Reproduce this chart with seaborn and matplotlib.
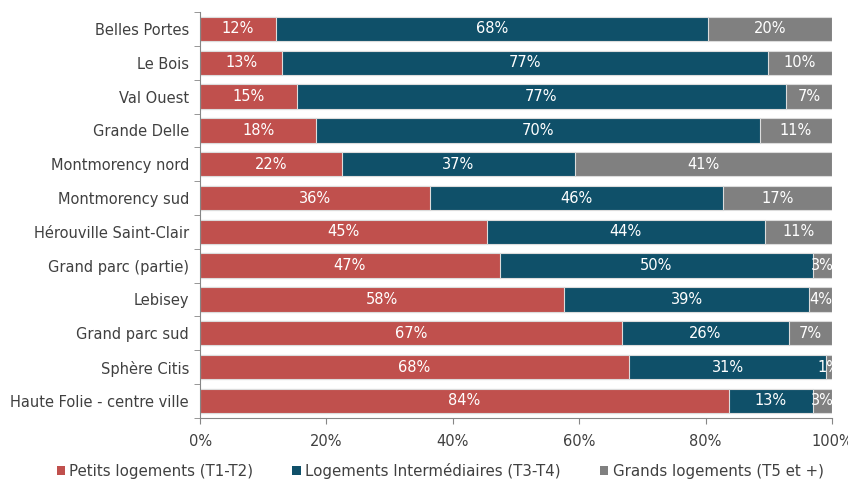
import numpy as np
import pandas as pd
import matplotlib.pyplot as plt
import seaborn as sns
from matplotlib.patches import Patch

sns.set_style("white")
plt.rcParams["font.family"] = ["DejaVu Sans"]

quartiers = [
    "Belles Portes", "Le Bois", "Val Ouest", "Grande Delle",
    "Montmorency nord", "Montmorency sud", "Hérouville Saint-Clair",
    "Grand parc (partie)", "Lebisey", "Grand parc sud", "Sphère Citis",
    "Haute Folie - centre ville",
]
petits = [12.0, 13.0, 15.3, 18.4, 22.4, 36.4, 45.4, 47.4, 57.6, 66.8, 67.9, 83.7]
interm = [68.4, 76.9, 77.4, 70.2, 37.0, 46.4, 44.0, 49.6, 38.8, 26.4, 31.2, 13.3]
grands = [19.6, 10.1, 7.3, 11.4, 40.6, 17.2, 10.6, 3.0, 3.6, 6.8, 0.9, 3.0]

series = ["Petits logements (T1-T2)", "Logements Intermédiaires (T3-T4)",
          "Grands logements (T5 et +)"]
couleurs = ["#C0504D", "#0F5069", "#808080"]

df = pd.DataFrame({"quartier": quartiers, "petits": petits,
                   "interm": interm, "grands": grands})
df["c1"] = df["petits"]
df["c2"] = df["petits"] + df["interm"]
df["c3"] = df["c2"] + df["grands"]

fig = plt.figure(figsize=(8.48, 4.83), dpi=100)
ax = fig.add_axes([0.236, 0.135, 0.745, 0.84])

# stacked bars drawn as overlapping cumulative totals
for col, c in zip(["c3", "c2", "c1"], couleurs[::-1]):
    sns.barplot(data=df, x=col, y="quartier", orient="h", color=c,
                width=0.72, edgecolor="#dcdcdc", linewidth=0.8,
                saturation=1, ax=ax)

for i, row in df.iterrows():
    starts = [0, row["c1"], row["c2"]]
    for s, v in zip(starts, [row["petits"], row["interm"], row["grands"]]):
        ax.text(s + v / 2, i, f"{v:.0f}%", ha="center", va="center",
                color="white", fontsize=10.5, clip_on=True)

ax.set_xlim(0, 100)
ax.set_xticks(np.arange(0, 101, 20))
ax.set_xticklabels([f"{t}%" for t in range(0, 101, 20)])
ax.set_xlabel("")
ax.set_ylabel("")
ax.set_yticks(np.arange(-0.5, 12, 1), minor=True)
ax.tick_params(axis="y", which="major", length=0, pad=8, labelsize=10.5,
               labelcolor="#404040")
ax.tick_params(axis="y", which="minor", length=4, color="#868686", left=True)
ax.tick_params(axis="x", length=4, color="#868686", bottom=True, labelsize=10.5,
               labelcolor="#404040", pad=8)
for side in ["top", "right"]:
    ax.spines[side].set_visible(False)
for side in ["left", "bottom"]:
    ax.spines[side].set_color("#868686")
    ax.spines[side].set_linewidth(0.8)

handles = [Patch(facecolor=c, edgecolor="none") for c in couleurs]
fig.legend(handles, series, loc="center", bbox_to_anchor=(0.519, 0.025),
           ncol=3, frameon=False, fontsize=10.8, handlelength=0.55,
           handleheight=0.55, handletextpad=0.3, columnspacing=2.6,
           labelcolor="#404040")

fig.savefig("out.png", dpi=100)
